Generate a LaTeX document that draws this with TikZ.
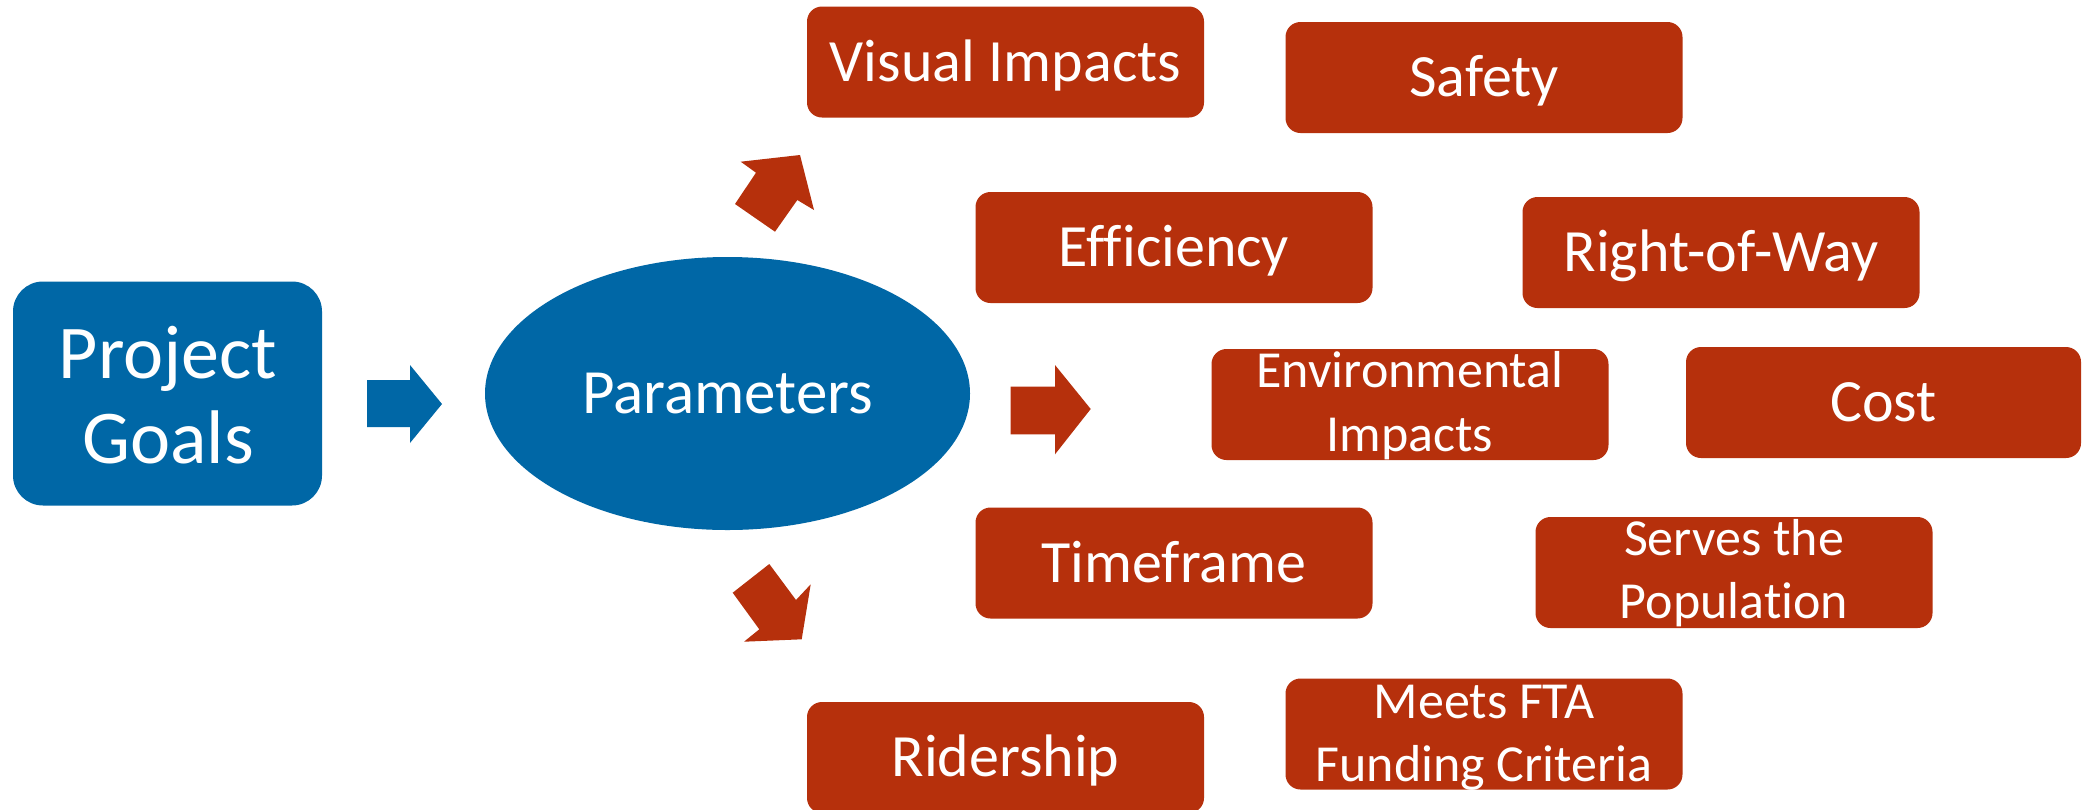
\documentclass[tikz,border=0pt]{standalone}
\usepackage{fontspec}
\setmainfont{Carlito}[Ligatures=NoCommon]
\usetikzlibrary{shapes.geometric}
\definecolor{bblue}{RGB}{0,103,166}
\definecolor{rred}{RGB}{182,48,12}
\begin{document}
\begin{tikzpicture}[x=1pt,y=-1pt,
  rbox/.style={fill=rred, rounded corners=15pt, minimum width=397pt, minimum height=111pt,
    inner sep=0pt, text=white, font=\fontsize{60}{72}\selectfont, text height=38pt, text depth=0pt},
  ltxt/.style={text=white, inner sep=0pt, anchor=base, font=\fontsize{52}{63}\selectfont},
  gtxt/.style={text=white, inner sep=0pt, anchor=base, font=\fontsize{76}{85}\selectfont},
  redarrow/.style={fill=rred},
  bluearrow/.style={fill=bblue}]
\useasboundingbox (0,0) rectangle (2082,809);
\clip (0,0) rectangle (2082,809);
\fill[white] (0,0) rectangle (2082,809);

% Project Goals
\node[fill=bblue, rounded corners=30pt, minimum width=309pt, minimum height=224pt, inner sep=0pt] (goals) at (167.5,393.5) {};
\node[gtxt] (goals1) at (168,378) {Project};
\node[gtxt] (goals2) at (168,463) {Goals};

% blue block arrow
\fill[bluearrow] (367,380) -- (410,380) -- (410,365) -- (442,404) -- (410,443) -- (410,427) -- (367,427) -- cycle;

% Parameters ellipse
\node[ellipse, fill=bblue, minimum width=485pt, minimum height=273pt, inner sep=0pt,
  text=white, font=\fontsize{63}{75}\selectfont, text height=40pt, text depth=0pt] (params) at (727.5,393.5) {Parameters};

% red block arrows
\fill[redarrow] (735,204) -- (756,172.7) -- (740.7,161.7) -- (800,155) -- (814,210) -- (797.3,200) -- (775,231.7) -- cycle;
\fill[redarrow] (1010.7,386.7) -- (1055,386.7) -- (1055,365) -- (1090.7,409) -- (1055,454.3) -- (1055,434.3) -- (1010.7,434.3) -- cycle;
\fill[redarrow] (769.3,564) -- (796,600) -- (810.7,584.3) -- (801.7,639.3) -- (744,641.7) -- (759.3,629.3) -- (732.7,592.7) -- cycle;

% red boxes
\node[rbox] (vis) at (1005.5,62) {Visual Impacts};
\node[rbox] (safety) at (1484,77.5) {Safety};
\node[rbox] (eff) at (1174,247.5) {Efficiency};
\node[rbox] (row) at (1721,252.5) {Right-of-Way};
\node[rbox] (env) at (1410,404.5) {};
\node[ltxt] (env1) at (1410,387.5) {Environmental};
\node[ltxt] (env2) at (1410,451.5) {Impacts};
\node[rbox, minimum width=395pt] (cost) at (1883.5,402.5) {Cost};
\node[rbox] (time) at (1174,563) {Timeframe};
\node[rbox] (serves) at (1734,572.5) {};
\node[ltxt] (serves1) at (1734,555) {Serves the};
\node[ltxt] (serves2) at (1734,618) {Population};
\node[rbox] (rider) at (1005.5,757.5) {Ridership};
\node[rbox] (fta) at (1484,734) {};
\node[ltxt] (fta1) at (1484,718) {Meets FTA};
\node[ltxt] (fta2) at (1484,781.5) {Funding Criteria};
\end{tikzpicture}
\end{document}
